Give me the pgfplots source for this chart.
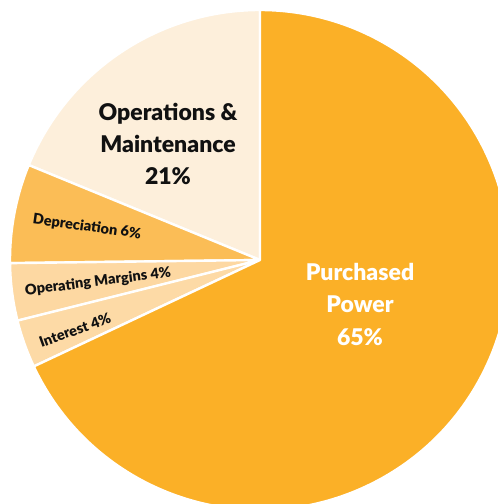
\documentclass[border=0pt]{standalone}
\usepackage{pgfplots}
\pgfplotsset{compat=1.18}
\usepackage{pgfplotstable}
\usepackage{fontspec}
\setmainfont{Lato}[BoldFont={Lato Black}]
\definecolor{pp}{HTML}{FBB027}
\definecolor{om}{HTML}{FDEFDB}
\definecolor{dep}{HTML}{FBBD56}
\definecolor{opm}{HTML}{FDD8A2}
\definecolor{intr}{HTML}{FDDAA6}
\definecolor{ink}{HTML}{111111}
% slice shares (percent of the full circle), counter-clockwise from the top
\pgfplotstableread{
value col
18.8 om
6.4 dep
3.7 opm
3.1 intr
68.0 pp
}\slices
\begin{document}
\begin{tikzpicture}
\pgfplotstablegetrowsof{\slices}%
\pgfmathtruncatemacro\nslices{\pgfplotsretval-1}%
\gdef\cum{90}%
\foreach \i in {0,...,\nslices}{%
  \pgfplotstablegetelem{\i}{value}\of\slices \let\v\pgfplotsretval
  \pgfplotstablegetelem{\i}{col}\of\slices \let\c\pgfplotsretval
  \pgfmathsetmacro\e{\cum+3.6*\v}%
  \expandafter\xdef\csname sa\i\endcsname{\cum}%
  \expandafter\xdef\csname se\i\endcsname{\e}%
  \xglobal\colorlet{slice\i}{\c}%
  \xdef\cum{\e}%
}%
\begin{axis}[x=1pt, y=1pt, scale only axis,
  xmin=-260, xmax=238, ymin=-244, ymax=260, axis lines=none, clip=true]
\pgfplotsinvokeforeach{0,...,4}{
  \fill[fill=slice#1, draw=white, line width=2.4pt, line join=round]
    (axis cs:0,0) -- ({250*cos(\csname sa#1\endcsname)},{250*sin(\csname sa#1\endcsname)})
    arc[start angle=\csname sa#1\endcsname, end angle=\csname se#1\endcsname, radius=250pt] -- cycle;
}
\node[align=center, font=\fontsize{23}{32}\selectfont\bfseries, text=ink] at (axis cs:-92,116) {Operations \&\\Maintenance\\21\%};
\node[align=center, font=\fontsize{23}{32.5}\selectfont\bfseries, text=white] at (axis cs:100,-44) {Purchased\\Power\\65\%};
\node[font=\fontsize{14.5}{16}\selectfont\bfseries, text=ink, rotate=-8] at (axis cs:-173,33) {Depreciation 6\%};
\node[font=\fontsize{14.5}{16}\selectfont\bfseries, text=ink, rotate=7] at (axis cs:-162,-22) {Operating Margins 4\%};
\node[font=\fontsize{14.5}{16}\selectfont\bfseries, text=ink, rotate=20] at (axis cs:-185,-70) {Interest 4\%};
\coordinate (bl) at (axis cs:-260,-244);
\coordinate (tr) at (axis cs:238,260);
\end{axis}
\pgfresetboundingbox
\path[use as bounding box] (bl) rectangle (tr);
\end{tikzpicture}
\end{document}
